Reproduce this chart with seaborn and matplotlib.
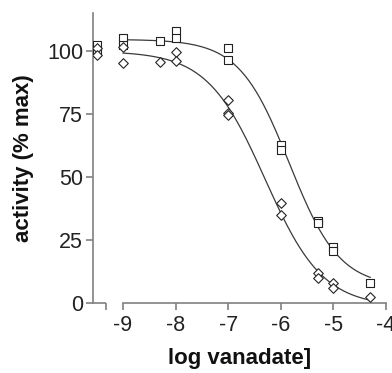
import numpy as np
import pandas as pd
import matplotlib
matplotlib.use("Agg")
import matplotlib.pyplot as plt
import seaborn as sns

# log[vanadate] values; the control (no vanadate) sits on the broken part of the axis at -9.5
sq_logx = [-9.5, -9.5, -9, -9, -8.3, -8, -8, -7, -7, -6, -6, -5.3, -5.3, -5, -5, -4.3]
sq_act = [102.5, 99.5, 105, 102.5, 104, 108, 105, 101, 96.5, 62.5, 60.5, 32.5, 31.5, 22, 20.5, 8]

dia_logx = [-9.5, -9.5, -9, -9, -8.3, -8, -8, -7, -7, -7, -6, -6, -5.3, -5.3, -5, -5, -4.3]
dia_act = [101, 98.5, 101.5, 95, 95.5, 99.5, 96, 80.5, 75.5, 74.5, 39.5, 35, 12, 10, 8, 6, 2.5]

x_ticks = [-9, -8, -7, -6, -5, -4]
y_ticks = [0, 25, 50, 75, 100]


# sigmoidal dose-response fit (top, bottom, logIC50, hill) by grid search + linear lstsq
def fit_curve(xs, ys):
    xs = np.array(xs)
    ys = np.array(ys)
    best = None
    for c in np.arange(-7.5, -4.5, 0.01):
        for h in np.arange(0.5, 2.0, 0.01):
            s = 1.0 / (1.0 + 10 ** ((xs - c) * h))
            A = np.column_stack([np.ones_like(s), s])
            coef, res, _, _ = np.linalg.lstsq(A, ys, rcond=None)
            err = np.sum((A @ coef - ys) ** 2)
            if best is None or err < best[0]:
                best = (err, coef, c, h)
    _, coef, c, h = best
    grid = np.linspace(-9, -4.3, 200)
    return grid, coef[0] + coef[1] / (1.0 + 10 ** ((grid - c) * h))


gx_sq, gy_sq = fit_curve(sq_logx, sq_act)
gx_dia, gy_dia = fit_curve(dia_logx, dia_act)

sns.set_style("ticks")
plt.rcParams["font.family"] = ["Liberation Sans", "DejaVu Sans"]

fig = plt.figure(figsize=(3.92, 3.73), dpi=100)
ax = fig.add_axes([0.237, 0.188, 0.748, 0.777])

line_col = "#3a3a3a"
sns.lineplot(x=gx_sq, y=gy_sq, ax=ax, color=line_col, linewidth=0.9)
sns.lineplot(x=gx_dia, y=gy_dia, ax=ax, color=line_col, linewidth=0.9)

pts_sq = pd.DataFrame({"logx": sq_logx, "act": sq_act})
pts_dia = pd.DataFrame({"logx": dia_logx, "act": dia_act})
sns.scatterplot(data=pts_sq, x="logx", y="act", ax=ax, marker="s", s=26,
                facecolor="white", edgecolor="#222222", linewidth=0.8, zorder=3)
sns.scatterplot(data=pts_dia, x="logx", y="act", ax=ax, marker="D", s=24,
                facecolor="white", edgecolor="#222222", linewidth=0.8, zorder=3)

ax.set_xlim(-9.57, -4)
ax.set_ylim(0, 115)

# broken x axis: short control segment, then the log scale from -9
spine_col = "#808080"
ax.spines["top"].set_visible(False)
ax.spines["right"].set_visible(False)
for sp in ["left", "bottom"]:
    ax.spines[sp].set_color(spine_col)
    ax.spines[sp].set_linewidth(1.2)
ax.spines["bottom"].set_bounds(-9, -4)
ax.plot([-9.57, -9.32], [0, 0], color=spine_col, linewidth=1.2, clip_on=False,
        solid_capstyle="butt")

ax.set_xticks([-9.32] + x_ticks)
ax.set_xticklabels([""] + [str(t) for t in x_ticks])
ax.set_yticks(y_ticks)
ax.set_yticklabels([str(t) for t in y_ticks])
ax.tick_params(axis="both", direction="out", length=5, width=1.2, color=spine_col,
               labelsize=15.5, labelcolor="#222222")
ax.tick_params(axis="x", pad=3.5)
ax.tick_params(axis="y", pad=2)

ax.set_xlabel("log vanadate]", fontsize=16, fontweight="bold", color="#111111")
ax.set_ylabel("activity (% max)", fontsize=16, fontweight="bold", color="#111111")
ax.xaxis.set_label_coords(0.5, -0.155)
ax.yaxis.set_label_coords(-0.2, 0.5)

fig.savefig("out.png", dpi=100)
